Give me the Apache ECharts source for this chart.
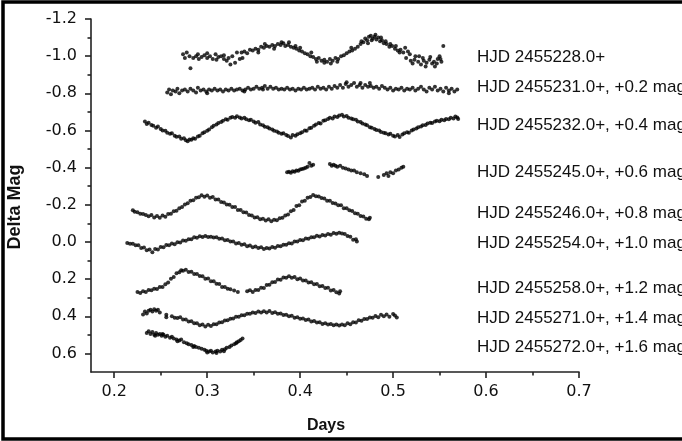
<!DOCTYPE html>
<html><head><meta charset="utf-8">
<script src="https://cdn.jsdelivr.net/npm/echarts@6/dist/echarts.min.js"></script>
<style>html,body{margin:0;padding:0;background:#fff}#c{width:682px;height:441px}</style>
</head><body><div id="c"></div>
<script>
const xTicks=[0.2,0.3,0.4,0.5,0.6,0.7];
const xMinorTicks=[0.25,0.35,0.45,0.55,0.65];
const yTicks=[-1.2,-1.0,-0.8,-0.6,-0.4,-0.2,0.0,0.2,0.4,0.6];
const yMinorTicks=[-1.1,-0.9,-0.7,-0.5,-0.3,-0.1,0.1,0.3,0.5];
const curveLabels=["HJD 2455228.0+","HJD 2455231.0+, +0.2 mag","HJD 2455232.0+, +0.4 mag","HJD 2455245.0+, +0.6 mag","HJD 2455246.0+, +0.8 mag","HJD 2455254.0+, +1.0 mag","HJD 2455258.0+, +1.2 mag","HJD 2455271.0+, +1.4 mag","HJD 2455272.0+, +1.6 mag"];

const d228=[[0.274,-1.01],[0.276,-0.99],[0.278,-1.02],[0.281,-1.00],[0.282,-0.935],[0.285,-0.99],[0.288,-1.00],[0.290,-1.01],[0.291,-0.985],[0.294,-0.995],[0.297,-1.005],[0.300,-0.99],[0.300,-1.015],[0.303,-1.00],[0.306,-0.985],[0.309,-1.01],[0.310,-0.98],[0.312,-0.995],[0.315,-1.00],[0.318,-0.985],[0.318,-1.005],[0.321,-0.975],[0.323,-0.99],[0.325,-0.955],[0.327,-1.00],[0.330,-0.965],[0.332,-1.02],[0.335,-0.985],[0.337,-1.02],[0.338,-0.99],[0.340,-1.025],[0.343,-1.015],[0.346,-1.035],[0.349,-1.03],[0.352,-1.04],[0.355,-1.035],[0.355,-1.02],[0.358,-1.05],[0.361,-1.045],[0.362,-1.065],[0.364,-1.055],[0.367,-1.05],[0.370,-1.06],[0.372,-1.04],[0.373,-1.055],[0.376,-1.065],[0.379,-1.06],[0.380,-1.075],[0.382,-1.07],[0.384,-1.055],[0.387,-1.06],[0.388,-1.075],[0.390,-1.05],[0.393,-1.045],[0.395,-1.055],[0.396,-1.04],[0.399,-1.03],[0.400,-1.045],[0.402,-1.025],[0.405,-1.015],[0.408,-1.01],[0.411,-1.00],[0.412,-1.02],[0.414,-0.995],[0.417,-0.985],[0.418,-0.97],[0.420,-0.99],[0.423,-0.975],[0.426,-0.98],[0.426,-0.965],[0.429,-0.97],[0.432,-0.985],[0.433,-0.96],[0.435,-0.975],[0.438,-0.99],[0.440,-0.97],[0.441,-0.985],[0.444,-1.00],[0.447,-1.005],[0.450,-1.015],[0.453,-1.025],[0.455,-1.045],[0.456,-1.03],[0.459,-1.04],[0.462,-1.05],[0.465,-1.065],[0.466,-1.08],[0.468,-1.075],[0.470,-1.095],[0.472,-1.085],[0.473,-1.07],[0.474,-1.105],[0.476,-1.11],[0.477,-1.085],[0.478,-1.095],[0.480,-1.105],[0.481,-1.115],[0.482,-1.09],[0.484,-1.10],[0.486,-1.08],[0.487,-1.10],[0.488,-1.085],[0.490,-1.07],[0.492,-1.08],[0.493,-1.065],[0.496,-1.05],[0.497,-1.065],[0.499,-1.055],[0.502,-1.04],[0.503,-1.055],[0.505,-1.03],[0.507,-1.02],[0.508,-1.035],[0.511,-1.02],[0.513,-1.045],[0.514,-0.99],[0.516,-1.025],[0.518,-1.01],[0.519,-0.975],[0.521,-0.96],[0.523,-0.98],[0.524,-1.00],[0.527,-0.97],[0.528,-1.00],[0.530,-0.955],[0.532,-0.99],[0.533,-0.975],[0.535,-0.945],[0.536,-0.965],[0.539,-0.98],[0.540,-0.995],[0.542,-0.96],[0.544,-0.97],[0.545,-0.945],[0.547,-0.96],[0.548,-0.985],[0.550,-1.0],[0.551,-0.985],[0.552,-0.97],[0.554,-1.055]];

const d231=[[0.257,-0.805],[0.259,-0.82],[0.261,-0.795],[0.263,-0.815],[0.266,-0.81],[0.268,-0.825],[0.270,-0.80],[0.273,-0.815],[0.276,-0.82],[0.279,-0.81],[0.282,-0.825],[0.285,-0.815],[0.288,-0.805],[0.290,-0.83],[0.293,-0.815],[0.296,-0.82],[0.299,-0.81],[0.300,-0.80],[0.302,-0.82],[0.305,-0.815],[0.308,-0.825],[0.311,-0.815],[0.314,-0.82],[0.317,-0.81],[0.320,-0.82],[0.323,-0.815],[0.326,-0.825],[0.329,-0.815],[0.332,-0.82],[0.335,-0.825],[0.338,-0.815],[0.340,-0.81],[0.341,-0.82],[0.344,-0.83],[0.347,-0.82],[0.350,-0.825],[0.353,-0.835],[0.356,-0.825],[0.359,-0.83],[0.360,-0.82],[0.362,-0.84],[0.365,-0.825],[0.368,-0.835],[0.371,-0.825],[0.374,-0.83],[0.377,-0.82],[0.380,-0.825],[0.383,-0.82],[0.386,-0.83],[0.389,-0.82],[0.392,-0.825],[0.395,-0.815],[0.398,-0.825],[0.401,-0.82],[0.404,-0.83],[0.407,-0.82],[0.410,-0.825],[0.413,-0.83],[0.416,-0.82],[0.419,-0.835],[0.422,-0.825],[0.425,-0.83],[0.428,-0.82],[0.431,-0.835],[0.434,-0.825],[0.437,-0.84],[0.440,-0.83],[0.443,-0.845],[0.446,-0.83],[0.449,-0.85],[0.450,-0.86],[0.452,-0.835],[0.455,-0.845],[0.458,-0.855],[0.461,-0.835],[0.464,-0.845],[0.465,-0.855],[0.467,-0.83],[0.470,-0.845],[0.473,-0.835],[0.475,-0.855],[0.476,-0.84],[0.479,-0.83],[0.482,-0.835],[0.485,-0.825],[0.488,-0.84],[0.491,-0.83],[0.494,-0.82],[0.497,-0.83],[0.500,-0.815],[0.503,-0.825],[0.506,-0.82],[0.509,-0.83],[0.512,-0.815],[0.515,-0.825],[0.518,-0.82],[0.521,-0.83],[0.524,-0.815],[0.527,-0.825],[0.530,-0.835],[0.533,-0.82],[0.536,-0.81],[0.539,-0.83],[0.542,-0.82],[0.545,-0.835],[0.548,-0.815],[0.551,-0.825],[0.554,-0.81],[0.557,-0.83],[0.560,-0.815],[0.560,-0.80],[0.563,-0.825],[0.566,-0.81],[0.569,-0.82]];

const d232=[[0.233,-0.648],[0.235,-0.635],[0.237,-0.642],[0.240,-0.63],[0.242,-0.625],[0.245,-0.615],[0.247,-0.622],[0.250,-0.608],[0.252,-0.60],[0.255,-0.598],[0.257,-0.588],[0.260,-0.582],[0.262,-0.585],[0.265,-0.572],[0.267,-0.566],[0.270,-0.568],[0.272,-0.556],[0.275,-0.558],[0.277,-0.548],[0.279,-0.542],[0.281,-0.552],[0.283,-0.55],[0.285,-0.558],[0.287,-0.555],[0.290,-0.568],[0.292,-0.572],[0.295,-0.585],[0.297,-0.59],[0.300,-0.598],[0.302,-0.605],[0.305,-0.618],[0.307,-0.625],[0.310,-0.632],[0.312,-0.64],[0.315,-0.645],[0.317,-0.652],[0.320,-0.66],[0.322,-0.658],[0.325,-0.668],[0.327,-0.672],[0.330,-0.668],[0.332,-0.676],[0.335,-0.67],[0.337,-0.665],[0.340,-0.668],[0.342,-0.66],[0.345,-0.655],[0.347,-0.658],[0.350,-0.648],[0.352,-0.642],[0.355,-0.645],[0.357,-0.632],[0.360,-0.628],[0.362,-0.62],[0.365,-0.618],[0.367,-0.61],[0.370,-0.605],[0.372,-0.598],[0.375,-0.595],[0.377,-0.588],[0.380,-0.582],[0.382,-0.585],[0.385,-0.575],[0.387,-0.57],[0.390,-0.562],[0.392,-0.575],[0.395,-0.572],[0.397,-0.58],[0.400,-0.585],[0.402,-0.59],[0.405,-0.6],[0.407,-0.598],[0.410,-0.612],[0.412,-0.615],[0.415,-0.625],[0.417,-0.632],[0.420,-0.64],[0.422,-0.638],[0.425,-0.652],[0.427,-0.655],[0.430,-0.662],[0.432,-0.668],[0.435,-0.665],[0.437,-0.675],[0.440,-0.672],[0.442,-0.68],[0.445,-0.685],[0.447,-0.675],[0.450,-0.678],[0.452,-0.668],[0.455,-0.665],[0.457,-0.66],[0.460,-0.658],[0.462,-0.648],[0.465,-0.645],[0.467,-0.638],[0.470,-0.632],[0.472,-0.628],[0.475,-0.618],[0.477,-0.615],[0.480,-0.608],[0.482,-0.602],[0.485,-0.6],[0.487,-0.592],[0.490,-0.588],[0.492,-0.585],[0.495,-0.578],[0.497,-0.582],[0.500,-0.572],[0.502,-0.568],[0.505,-0.575],[0.507,-0.565],[0.510,-0.578],[0.512,-0.585],[0.515,-0.59],[0.517,-0.588],[0.520,-0.6],[0.522,-0.605],[0.525,-0.61],[0.527,-0.618],[0.530,-0.622],[0.532,-0.628],[0.535,-0.63],[0.537,-0.638],[0.540,-0.642],[0.542,-0.64],[0.545,-0.648],[0.547,-0.652],[0.550,-0.65],[0.552,-0.658],[0.555,-0.655],[0.557,-0.662],[0.560,-0.66],[0.562,-0.668],[0.565,-0.665],[0.567,-0.675],[0.569,-0.67],[0.570,-0.662]];

const d245=[[0.386,-0.375],[0.388,-0.378],[0.390,-0.372],[0.392,-0.38],[0.394,-0.378],[0.396,-0.385],[0.398,-0.383],[0.400,-0.39],[0.402,-0.392],[0.404,-0.395],[0.406,-0.40],[0.408,-0.405],[0.410,-0.425],[0.412,-0.41],[0.414,-0.415],[0.432,-0.42],[0.434,-0.41],[0.436,-0.415],[0.438,-0.41],[0.440,-0.405],[0.443,-0.41],[0.446,-0.40],[0.449,-0.395],[0.452,-0.39],[0.455,-0.385],[0.458,-0.385],[0.461,-0.375],[0.465,-0.37],[0.469,-0.365],[0.472,-0.355],[0.484,-0.35],[0.490,-0.36],[0.493,-0.37],[0.495,-0.355],[0.497,-0.375],[0.500,-0.37],[0.503,-0.385],[0.506,-0.39],[0.509,-0.40],[0.511,-0.405]];

const d246=[[0.220,-0.17],[0.222,-0.162],[0.225,-0.16],[0.228,-0.152],[0.231,-0.15],[0.234,-0.145],[0.237,-0.138],[0.240,-0.145],[0.243,-0.132],[0.246,-0.14],[0.249,-0.13],[0.252,-0.142],[0.255,-0.136],[0.258,-0.15],[0.261,-0.152],[0.264,-0.165],[0.267,-0.168],[0.270,-0.182],[0.273,-0.188],[0.276,-0.202],[0.279,-0.208],[0.282,-0.222],[0.285,-0.225],[0.288,-0.238],[0.291,-0.24],[0.294,-0.252],[0.297,-0.243],[0.300,-0.25],[0.303,-0.238],[0.306,-0.242],[0.309,-0.228],[0.312,-0.228],[0.315,-0.215],[0.318,-0.212],[0.321,-0.202],[0.324,-0.2],[0.327,-0.188],[0.330,-0.188],[0.333,-0.172],[0.336,-0.172],[0.339,-0.16],[0.342,-0.158],[0.345,-0.145],[0.348,-0.142],[0.351,-0.132],[0.354,-0.133],[0.357,-0.122],[0.360,-0.125],[0.363,-0.115],[0.366,-0.122],[0.369,-0.112],[0.372,-0.12],[0.375,-0.117],[0.378,-0.128],[0.381,-0.13],[0.384,-0.143],[0.387,-0.148],[0.390,-0.165],[0.393,-0.172],[0.396,-0.193],[0.399,-0.198],[0.402,-0.218],[0.405,-0.222],[0.408,-0.238],[0.411,-0.242],[0.414,-0.253],[0.417,-0.246],[0.420,-0.245],[0.423,-0.236],[0.426,-0.234],[0.429,-0.222],[0.432,-0.222],[0.435,-0.21],[0.438,-0.207],[0.441,-0.198],[0.444,-0.197],[0.447,-0.182],[0.450,-0.182],[0.453,-0.17],[0.456,-0.167],[0.459,-0.155],[0.462,-0.152],[0.465,-0.14],[0.468,-0.137],[0.471,-0.125],[0.474,-0.122],[0.475,-0.13]];

const d254=[[0.214,0.005],[0.217,0.01],[0.220,0.01],[0.223,0.018],[0.226,0.018],[0.229,0.032],[0.232,0.03],[0.235,0.045],[0.238,0.04],[0.241,0.055],[0.244,0.038],[0.247,0.04],[0.250,0.027],[0.253,0.028],[0.256,0.017],[0.259,0.018],[0.262,0.008],[0.265,0.012],[0.268,0.002],[0.271,0.003],[0.274,-0.008],[0.277,-0.007],[0.280,-0.015],[0.283,-0.015],[0.286,-0.025],[0.289,-0.022],[0.292,-0.03],[0.295,-0.027],[0.298,-0.032],[0.301,-0.026],[0.304,-0.028],[0.307,-0.024],[0.310,-0.025],[0.313,-0.017],[0.316,-0.018],[0.319,-0.009],[0.322,-0.011],[0.325,-0.002],[0.328,-0.003],[0.331,0.008],[0.334,0.005],[0.337,0.015],[0.340,0.012],[0.343,0.023],[0.346,0.019],[0.349,0.028],[0.352,0.025],[0.355,0.033],[0.358,0.029],[0.361,0.038],[0.364,0.032],[0.367,0.035],[0.370,0.027],[0.373,0.031],[0.376,0.022],[0.379,0.023],[0.382,0.015],[0.385,0.015],[0.388,0.007],[0.391,0.008],[0.394,-0.003],[0.397,-0.002],[0.400,-0.011],[0.403,-0.009],[0.406,-0.018],[0.409,-0.017],[0.412,-0.025],[0.415,-0.025],[0.418,-0.033],[0.421,-0.029],[0.424,-0.038],[0.427,-0.035],[0.430,-0.043],[0.433,-0.039],[0.436,-0.048],[0.439,-0.044],[0.442,-0.05],[0.445,-0.046],[0.448,-0.043],[0.451,-0.032],[0.454,-0.028],[0.457,-0.012],[0.460,-0.014],[0.461,-0.002]];

const d258=[[0.225,0.27],[0.228,0.275],[0.231,0.265],[0.234,0.27],[0.237,0.258],[0.240,0.26],[0.243,0.252],[0.246,0.253],[0.249,0.242],[0.252,0.243],[0.255,0.228],[0.258,0.218],[0.261,0.198],[0.264,0.188],[0.267,0.168],[0.270,0.163],[0.272,0.152],[0.274,0.155],[0.277,0.15],[0.280,0.162],[0.283,0.16],[0.286,0.173],[0.289,0.172],[0.292,0.183],[0.295,0.185],[0.298,0.198],[0.301,0.197],[0.304,0.212],[0.307,0.212],[0.310,0.225],[0.313,0.227],[0.316,0.242],[0.319,0.243],[0.322,0.252],[0.325,0.255],[0.329,0.262],[0.333,0.27],[0.343,0.265],[0.346,0.26],[0.349,0.27],[0.352,0.258],[0.355,0.258],[0.358,0.247],[0.361,0.248],[0.364,0.232],[0.367,0.231],[0.370,0.217],[0.373,0.215],[0.376,0.202],[0.379,0.203],[0.382,0.192],[0.385,0.193],[0.388,0.185],[0.391,0.193],[0.394,0.189],[0.397,0.201],[0.400,0.197],[0.403,0.208],[0.406,0.207],[0.409,0.218],[0.412,0.217],[0.415,0.228],[0.418,0.227],[0.421,0.238],[0.424,0.237],[0.427,0.248],[0.430,0.247],[0.433,0.261],[0.436,0.259],[0.439,0.271],[0.442,0.277],[0.443,0.265]];

const d271=[[0.231,0.39],[0.233,0.375],[0.235,0.385],[0.237,0.37],[0.239,0.365],[0.241,0.375],[0.243,0.362],[0.245,0.37],[0.247,0.365],[0.249,0.38],[0.256,0.392],[0.256,0.405],[0.262,0.4],[0.265,0.408],[0.268,0.41],[0.271,0.405],[0.274,0.418],[0.277,0.418],[0.280,0.428],[0.283,0.427],[0.286,0.438],[0.289,0.437],[0.292,0.448],[0.295,0.445],[0.298,0.455],[0.301,0.446],[0.304,0.453],[0.307,0.443],[0.310,0.443],[0.313,0.433],[0.316,0.432],[0.319,0.423],[0.322,0.422],[0.325,0.413],[0.328,0.412],[0.331,0.403],[0.334,0.402],[0.337,0.395],[0.340,0.394],[0.343,0.387],[0.346,0.387],[0.349,0.38],[0.352,0.382],[0.355,0.375],[0.358,0.38],[0.361,0.373],[0.364,0.38],[0.367,0.372],[0.370,0.382],[0.373,0.379],[0.376,0.387],[0.379,0.385],[0.382,0.393],[0.385,0.392],[0.388,0.4],[0.391,0.397],[0.394,0.408],[0.397,0.405],[0.400,0.413],[0.403,0.412],[0.406,0.42],[0.409,0.417],[0.412,0.428],[0.415,0.425],[0.418,0.433],[0.421,0.432],[0.424,0.441],[0.427,0.437],[0.430,0.445],[0.433,0.442],[0.436,0.449],[0.439,0.445],[0.442,0.45],[0.445,0.444],[0.448,0.449],[0.451,0.438],[0.454,0.443],[0.457,0.432],[0.460,0.433],[0.463,0.422],[0.466,0.424],[0.469,0.415],[0.472,0.415],[0.475,0.407],[0.478,0.408],[0.481,0.398],[0.484,0.405],[0.487,0.392],[0.490,0.4],[0.493,0.39],[0.496,0.403],[0.500,0.388],[0.502,0.396],[0.504,0.407]];

const d272=[[0.235,0.49],[0.237,0.48],[0.239,0.495],[0.241,0.485],[0.243,0.5],[0.244,0.505],[0.245,0.49],[0.247,0.5],[0.249,0.495],[0.251,0.505],[0.252,0.495],[0.253,0.5],[0.255,0.51],[0.257,0.505],[0.260,0.515],[0.262,0.51],[0.264,0.52],[0.267,0.525],[0.268,0.535],[0.270,0.53],[0.272,0.525],[0.275,0.54],[0.278,0.545],[0.280,0.55],[0.283,0.555],[0.285,0.565],[0.286,0.56],[0.288,0.565],[0.291,0.57],[0.294,0.575],[0.297,0.58],[0.299,0.585],[0.300,0.595],[0.302,0.59],[0.304,0.585],[0.306,0.595],[0.309,0.59],[0.310,0.598],[0.311,0.585],[0.314,0.59],[0.316,0.58],[0.318,0.588],[0.319,0.578],[0.321,0.57],[0.324,0.565],[0.326,0.558],[0.329,0.55],[0.331,0.545],[0.332,0.54],[0.334,0.535],[0.336,0.528],[0.338,0.52]];

const curves=[d228,d231,d232,d245,d246,d254,d258,d271,d272];
const labelY=[57,87,125,172,213,243,288,318,347];

const chart=echarts.init(document.getElementById('c'),null,{renderer:'canvas'});
const FONT='"Liberation Sans", Arial, sans-serif';
const TICKFONT='"DejaVu Sans", sans-serif';
const axisColor='#222';
const fmt=v=>Number(v).toFixed(1);
chart.setOption({
  animation:false,
  backgroundColor:'#fff',
  grid:{left:91,right:103,top:19,bottom:69},
  xAxis:[
    {type:'value',min:0.175,max:0.7,position:'bottom',
     axisLine:{show:true,onZero:false,lineStyle:{color:axisColor,width:1.6}},
     axisTick:{show:true,customValues:xTicks,length:6,lineStyle:{color:axisColor,width:1.6}},
     axisLabel:{show:true,customValues:xTicks,formatter:fmt,fontSize:16,color:'#111',fontFamily:TICKFONT,margin:12},
     splitLine:{show:false}},
    {type:'value',min:0.175,max:0.7,position:'bottom',
     axisLine:{show:false,onZero:false},
     axisTick:{show:true,customValues:xMinorTicks,length:3.5,lineStyle:{color:axisColor,width:1.6}},
     axisLabel:{show:false},splitLine:{show:false}}
  ],
  yAxis:[
    {type:'value',inverse:true,min:-1.2,max:0.7,position:'left',
     axisLine:{show:true,onZero:false,lineStyle:{color:axisColor,width:1.6}},
     axisTick:{show:true,customValues:yTicks,length:6,lineStyle:{color:axisColor,width:1.6}},
     axisLabel:{show:true,customValues:yTicks,formatter:fmt,fontSize:16,color:'#111',fontFamily:TICKFONT,margin:14},
     splitLine:{show:false}},
    {type:'value',inverse:true,min:-1.2,max:0.7,position:'left',
     axisLine:{show:false,onZero:false},
     axisTick:{show:true,customValues:yMinorTicks,length:3.5,lineStyle:{color:axisColor,width:1.6}},
     axisLabel:{show:false},splitLine:{show:false}}
  ],
  series:curves.map((d,i)=>({type:'scatter',name:curveLabels[i],data:d,xAxisIndex:0,yAxisIndex:0,
    symbol:'circle',symbolSize:4,itemStyle:{color:'#000'}})),
  graphic:[
    {type:'rect',shape:{x:3,y:2,width:740,height:437},style:{fill:'none',stroke:'#000',lineWidth:3.5},z:100},
    ...curveLabels.map((t,i)=>({type:'text',x:477,y:labelY[i],style:{text:t,font:'17px '+FONT,fill:'#111',textAlign:'left',textVerticalAlign:'middle',align:'left',verticalAlign:'middle'}})),
    {type:'text',x:15,y:207,rotation:Math.PI/2,style:{text:'Delta Mag',font:'bold 18px '+FONT,fill:'#111',textAlign:'center',textVerticalAlign:'middle',align:'center',verticalAlign:'middle'}},
    {type:'text',x:326,y:426,style:{text:'Days',font:'bold 16px '+FONT,fill:'#111',textAlign:'center',textVerticalAlign:'middle',align:'center',verticalAlign:'middle'}}
  ]
});
</script></body></html>
